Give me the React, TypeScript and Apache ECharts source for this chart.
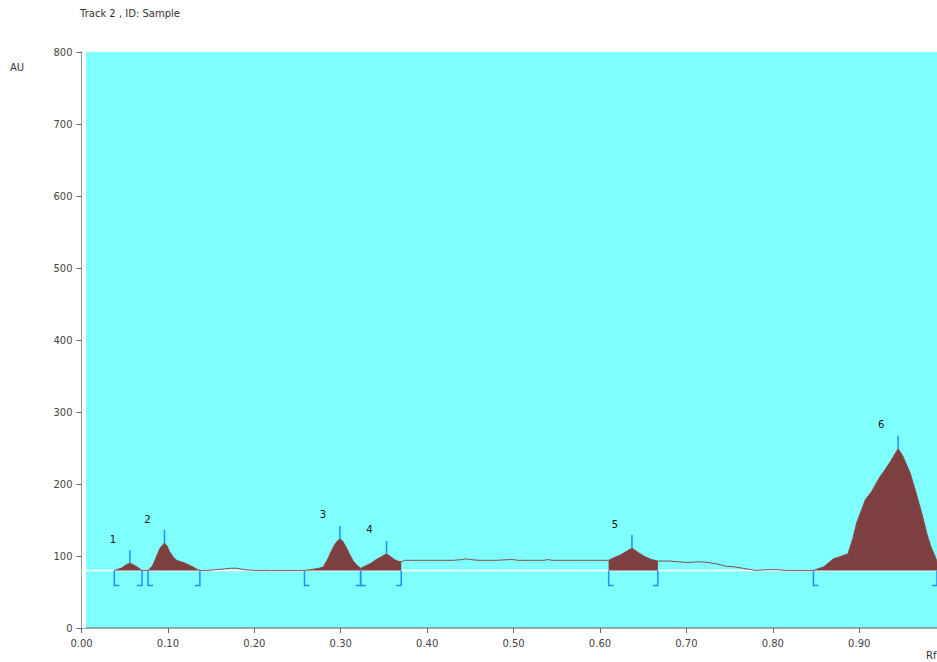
import React, { useEffect, useRef } from "react";
import * as echarts from "echarts";

const titleText = "Track 2 , ID: Sample";
const yAxisName = "AU";
const xAxisName = "Rf";
const baselineAU = 80;

const yTicks = [0, 100, 200, 300, 400, 500, 600, 700, 800];

// Densitometric trace (Rf, AU)
const traceRf = [
  0.038, 0.046, 0.052, 0.056, 0.060, 0.064, 0.070,
  0.077, 0.082, 0.085, 0.088, 0.091, 0.096, 0.099, 0.102, 0.106, 0.110, 0.115, 0.120, 0.125, 0.129, 0.133, 0.137,
  0.145, 0.155, 0.165, 0.172, 0.180, 0.188, 0.200, 0.220, 0.240, 0.258,
  0.265, 0.275, 0.280, 0.285, 0.288, 0.294, 0.299, 0.302, 0.306, 0.310, 0.314, 0.318, 0.323,
  0.330, 0.335, 0.341, 0.347, 0.353, 0.358, 0.362, 0.366, 0.370,
  0.374, 0.400, 0.430, 0.440, 0.445, 0.450, 0.460, 0.480, 0.495, 0.500, 0.505, 0.520, 0.535, 0.540, 0.545, 0.580, 0.610,
  0.615, 0.623, 0.630, 0.637, 0.644, 0.652, 0.660, 0.667,
  0.680, 0.690, 0.700, 0.715, 0.725, 0.735, 0.745, 0.755, 0.765, 0.775, 0.780, 0.795, 0.805, 0.815, 0.830, 0.847,
  0.859, 0.870, 0.880, 0.887, 0.893, 0.897, 0.903, 0.907, 0.914, 0.924, 0.930, 0.937, 0.942, 0.945,
  0.950, 0.955, 0.959, 0.964, 0.969, 0.974, 0.978, 0.983, 0.988, 0.990,
];
const traceAU = [
  80, 83, 88, 90, 88, 85, 80,
  80, 86, 94, 103, 111, 118, 114, 106, 99, 94, 92, 90, 87, 85, 82, 80,
  80, 81, 82, 83, 83, 81, 80, 80, 80, 80,
  81, 83, 85, 96, 104, 118, 124, 121, 113, 103, 94, 88, 83,
  87, 90, 95, 99, 103, 99, 95, 93, 92,
  94, 94, 94, 95, 96, 95, 94, 94, 95, 95, 94, 94, 94, 95, 94, 94, 94,
  97, 101, 106, 111, 105, 99, 95, 93,
  93, 92, 91, 92, 91, 89, 86, 85, 83, 81, 80, 81, 81, 80, 80, 80,
  85, 96, 100, 103, 126, 146, 165, 178, 189, 210, 220, 233, 243, 249,
  240, 226, 215, 195, 174, 152, 132, 113, 99, 92,
];

// Integrated peaks
const peakLabels = ["1", "2", "3", "4", "5", "6"];
const peakStart = [0.038, 0.077, 0.258, 0.323, 0.610, 0.847];
const peakEnd = [0.070, 0.137, 0.323, 0.370, 0.667, 0.990];
const peakApex = [0.056, 0.096, 0.299, 0.353, 0.637, 0.945];
const peakApexAU = [90, 118, 124, 103, 111, 249];

const FONT = "DejaVu Sans";
const BROWN = "#7d3f3f";
const BLUE = "#1e8fff";

export default function App() {
  const ref = useRef<HTMLDivElement>(null);
  useEffect(() => {
    if (!ref.current) return;
    const chart = echarts.init(ref.current, null, { renderer: "svg" });
    const trace = traceRf.map((x, i) => [x, traceAU[i]]);
    const peakSeries = peakStart.map((s, i) => ({
      type: "line",
      data: trace.filter((p) => p[0] >= s - 1e-9 && p[0] <= peakEnd[i] + 1e-9),
      symbol: "none",
      silent: true,
      z: 2,
      lineStyle: { width: 0, color: BROWN },
      itemStyle: { color: BROWN },
      areaStyle: { color: BROWN, opacity: 1, origin: baselineAU },
    }));
    const option: any = {
      animation: false,
      backgroundColor: "#ffffff",
      grid: {
        left: 81.5,
        right: 0,
        top: 52,
        bottom: 34,
        show: true,
        backgroundColor: "#80ffff",
        borderWidth: 0,
      },
      xAxis: {
        type: "value",
        min: 0,
        max: 0.99,
        interval: 0.1,
        axisLine: { show: true, lineStyle: { color: "#7f8f8f", width: 1.5 } },
        axisTick: { show: true, length: 5, lineStyle: { color: "#666" } },
        splitLine: { show: false },
        axisLabel: {
          showMaxLabel: false,
          margin: 10,
          fontFamily: FONT,
          fontSize: 10,
          color: "#444",
          formatter: (v: number) => v.toFixed(2),
        },
      },
      yAxis: {
        type: "value",
        min: 0,
        max: 800,
        interval: 100,
        axisLine: { show: true, lineStyle: { color: "#7f7f7f", width: 1.5 } },
        axisTick: { show: true, length: 5, lineStyle: { color: "#666" } },
        splitLine: { show: false },
        axisLabel: {
          margin: 9,
          fontFamily: FONT,
          fontSize: 10,
          color: "#444",
          formatter: (v: number) => (yTicks.includes(v) ? String(v) : ""),
        },
      },
      graphic: [
        { type: "rect", left: 82, top: 52, shape: { width: 4, height: 576 }, style: { fill: "#ffffff" }, z: 50 },
        { type: "text", left: 80, top: 8, style: { text: titleText, font: `10px "${FONT}"`, fill: "#333" } },
        { type: "text", left: 10, top: 62, style: { text: yAxisName, font: `10px "${FONT}"`, fill: "#333" } },
        { type: "text", left: 926, top: 650, style: { text: xAxisName, font: `10px "${FONT}"`, fill: "#333" } },
      ],
      series: [
        {
          type: "line",
          data: [[0, baselineAU], [0.99, baselineAU]],
          symbol: "none",
          silent: true,
          z: 1,
          lineStyle: { color: "#ffffff", width: 1.5 },
        },
        ...peakSeries,
        {
          type: "line",
          data: trace,
          symbol: "none",
          silent: true,
          z: 3,
          lineStyle: { color: "#8a4a4a", width: 1 },
        },
        {
          type: "custom",
          z: 4,
          silent: true,
          data: peakStart.map((s, i) => [s, peakApex[i], peakEnd[i], peakApexAU[i]]),
          encode: { x: [0, 1, 2], y: 3 },
          renderItem: (params: any, api: any) => {
            const s = api.value(0);
            const a = api.value(1);
            const e = api.value(2);
            const av = api.value(3);
            const pS = api.coord([s, baselineAU]);
            const pE = api.coord([e, baselineAU]);
            const pA = api.coord([a, av]);
            const st = { stroke: BLUE, lineWidth: 1.5, fill: "none" };
            return {
              type: "group",
              children: [
                { type: "line", shape: { x1: pA[0], y1: pA[1], x2: pA[0], y2: pA[1] - 13 }, style: st },
                {
                  type: "polyline",
                  shape: { points: [[pS[0], pS[1]], [pS[0], pS[1] + 15], [pS[0] + 5, pS[1] + 15]] },
                  style: st,
                },
                {
                  type: "polyline",
                  shape: { points: [[pE[0], pE[1]], [pE[0], pE[1] + 15], [pE[0] - 5, pE[1] + 15]] },
                  style: st,
                },
                {
                  type: "text",
                  x: pA[0] - 17,
                  y: pA[1] - 24,
                  style: {
                    text: peakLabels[params.dataIndex],
                    fill: "#111",
                    font: `10px "${FONT}"`,
                    align: "center",
                    verticalAlign: "middle",
                  },
                },
              ],
            };
          },
        },
      ],
    };
    chart.setOption(option);
    return () => chart.dispose();
  }, []);
  return (
    <div
      ref={ref}
      style={{ position: "absolute", left: 0, top: 0, width: 937, height: 662 }}
    />
  );
}
